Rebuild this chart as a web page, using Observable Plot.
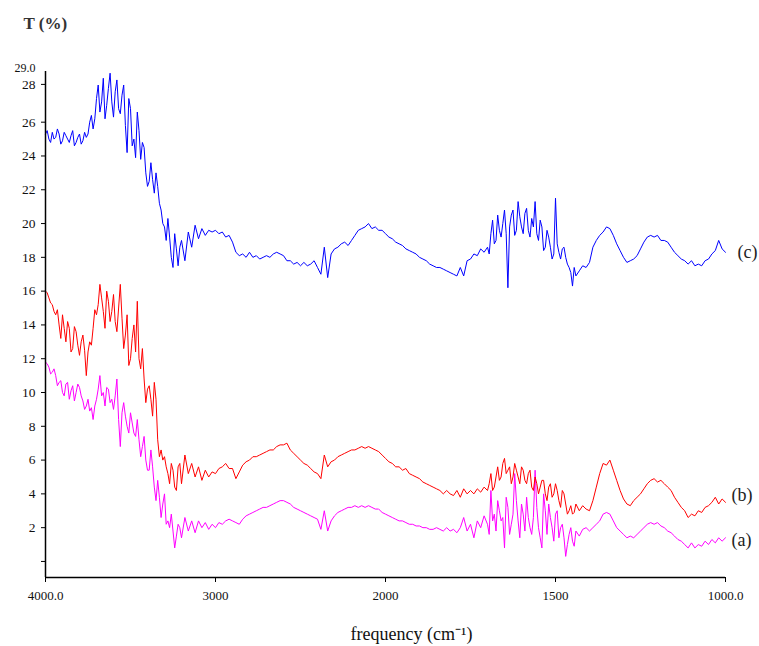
<!DOCTYPE html>
<html><head><meta charset="utf-8">
<script src="https://cdn.jsdelivr.net/npm/d3@7"></script>
<script src="https://cdn.jsdelivr.net/npm/@observablehq/plot@0.6"></script>
<style>body{margin:0;background:#fff} svg{display:block}</style>
</head><body><div id="chart"></div>
<script>
// Wavenumbers (cm-1), shared by all three spectra
const wavenumber = [
4000,3980,3960,3940,3920,3900,3880,3860,3840,3820,3800,3780,3760,3740,3720,3700,3680,3660,3640,3620,
3600,3580,3560,3540,3520,3500,3480,3460,3440,3420,3400,3380,3360,3340,3320,3300,3280,3260,3240,3220,
3200,3180,3160,3140,3120,3100,3080,3060,3040,3020,3000,2980,2960,2940,2920,2900,2880,2860,2840,2820,
2800,2780,2760,2740,2720,2700,2680,2660,2640,2620,2600,2580,2560,2540,2520,2500,2480,2460,2440,2420,
2400,2380,2360,2340,2320,2300,2280,2260,2240,2220,2200,2180,2160,2140,2120,2100,2080,2060,2040,2020,
2000,1990,1980,1970,1960,1950,1940,1930,1920,1910,1900,1890,1880,1870,1860,1850,1840,1830,1820,1810,
1800,1790,1780,1770,1760,1750,1740,1730,1720,1710,1700,1690,1680,1670,1660,1650,1640,1630,1620,1610,
1600,1590,1580,1570,1560,1550,1540,1530,1520,1510,1500,1490,1480,1470,1460,1450,1440,1430,1420,1410,
1400,1390,1380,1370,1360,1350,1340,1330,1320,1310,1300,1290,1280,1270,1260,1250,1240,1230,1220,1210,
1200,1190,1180,1170,1160,1150,1140,1130,1120,1110,1100,1090,1080,1070,1060,1050,1040,1030,1020,1010,
1000];

// (c) transmittance, %
const seriesC = [
25.3,25.0,25.4,25.1,25.3,24.9,25.2,24.8,25.5,24.8,25.3,24.9,25.1,26.0,25.6,27.4,26.6,28.6,27.0,28.9,
26.3,28.5,26.5,28.2,24.2,26.8,25.0,26.6,23.8,24.5,22.2,23.6,21.8,22.2,20.8,19.8,20.3,18.0,19.4,17.5,
19.0,17.8,19.5,18.6,19.9,19.1,19.7,19.3,19.6,19.5,19.6,19.4,19.5,19.2,19.3,18.9,18.3,18.1,18.2,18.0,
18.3,18.0,18.1,17.9,18.0,18.1,18.0,18.2,18.3,18.2,18.1,17.8,17.8,17.6,17.7,17.5,17.7,17.5,17.6,17.8,
17.4,17.0,18.6,16.8,18.2,18.5,18.6,18.8,18.9,18.7,19.0,19.3,19.6,19.7,19.8,20.0,19.7,19.8,19.6,19.6,
19.4,19.2,19.1,18.9,18.8,18.7,18.5,18.4,18.3,18.2,18.0,17.9,17.8,17.6,17.5,17.4,17.4,17.3,17.2,17.1,
17.0,16.9,17.4,16.9,17.8,17.9,18.2,18.1,18.5,18.3,18.6,19.4,18.8,20.5,19.2,20.8,16.2,20.5,19.3,21.3,
19.8,20.6,19.6,20.3,21.3,19.0,19.8,18.6,19.2,17.9,21.5,18.3,18.5,18.0,17.4,16.3,16.9,17.2,17.5,17.4,
17.7,18.6,19.0,19.3,19.5,19.8,19.7,19.3,18.8,18.4,18.0,17.7,17.8,17.9,18.1,18.5,18.9,19.2,19.3,19.2,
19.3,19.0,19.0,18.9,18.6,18.3,18.1,17.9,17.8,17.6,17.8,17.5,17.6,17.5,17.8,17.9,18.2,18.4,19.0,18.5,
18.3];

// (b) transmittance, %
const seriesB = [
16.0,15.6,15.2,14.6,14.0,14.6,13.0,13.8,12.6,13.6,12.2,13.4,11.0,13.0,13.8,14.6,16.4,14.8,16.0,14.2,
15.8,13.6,16.4,12.6,14.6,12.0,14.0,15.4,11.4,10.8,10.2,9.6,10.6,7.2,6.6,6.2,5.2,5.8,4.4,5.6,
4.6,6.3,5.2,5.8,5.0,5.6,4.8,5.4,5.0,5.3,5.2,5.5,5.6,5.8,5.5,5.5,4.9,5.3,5.7,5.9,
6.0,6.2,6.2,6.3,6.4,6.5,6.6,6.6,6.8,6.9,6.9,7.0,6.6,6.4,6.2,6.0,5.8,5.7,5.5,5.3,
5.2,4.9,6.3,5.6,5.9,6.0,6.2,6.3,6.4,6.5,6.6,6.6,6.7,6.8,6.7,6.8,6.7,6.6,6.5,6.3,
6.1,5.9,5.8,5.6,5.6,5.4,5.5,5.2,5.1,5.0,4.9,4.7,4.6,4.5,4.4,4.3,4.2,4.0,4.2,4.0,
3.9,4.2,3.8,4.3,4.0,4.2,4.0,4.3,4.1,4.4,4.2,5.2,4.4,5.6,5.0,6.1,5.4,4.6,5.8,5.0,
5.6,4.8,5.2,4.4,5.0,4.0,4.8,4.0,4.4,3.8,4.6,3.6,4.2,3.4,3.0,2.8,3.4,3.0,3.3,3.1,
3.0,3.6,4.4,5.2,5.8,5.7,6.0,5.4,4.8,4.2,3.7,3.4,3.3,3.6,3.8,4.0,4.3,4.6,4.8,4.9,
4.7,4.8,4.6,4.4,4.2,3.8,3.5,3.2,3.0,2.6,2.8,2.7,3.0,2.9,3.2,3.3,3.5,3.8,3.4,3.7,
3.5];

// (a) transmittance, %
const seriesA = [
11.8,11.5,11.2,11.0,10.6,10.0,10.5,9.6,10.4,10.0,10.3,9.5,9.2,8.9,8.4,9.6,11.0,10.0,10.3,9.4,
9.0,10.8,6.8,9.4,8.0,8.8,7.6,8.4,6.2,7.4,5.4,6.6,4.4,4.8,2.6,4.0,2.4,2.8,0.8,2.2,
1.4,2.6,1.8,2.4,1.7,2.4,2.0,2.3,1.9,2.2,2.0,2.3,2.2,2.4,2.5,2.4,2.3,2.2,2.5,2.7,
2.8,2.9,3.0,3.1,3.2,3.2,3.3,3.4,3.5,3.6,3.6,3.5,3.4,3.2,3.1,3.0,2.9,2.8,2.7,2.6,
2.5,1.9,3.0,1.8,2.4,2.7,2.9,3.0,3.1,3.2,3.2,3.3,3.2,3.3,3.2,3.3,3.2,3.1,3.1,2.9,
2.8,2.7,2.6,2.5,2.4,2.4,2.3,2.2,2.2,2.1,2.1,2.0,2.0,1.9,1.9,2.0,1.9,1.8,2.0,1.8,
1.9,1.7,2.0,2.6,1.8,2.2,1.4,2.4,2.0,2.7,2.2,4.2,2.8,3.6,2.4,0.8,3.2,2.2,5.2,2.4,
3.4,1.8,2.6,1.6,5.4,2.0,0.8,3.0,3.4,2.0,2.8,1.4,2.2,0.3,1.6,1.2,1.8,1.5,1.9,2.0,
1.8,2.0,2.2,2.4,2.8,2.9,2.8,2.4,2.0,1.8,1.6,1.4,1.5,1.4,1.6,1.8,2.0,2.2,2.3,2.2,
2.3,2.1,2.0,1.8,1.7,1.5,1.3,1.2,1.0,0.8,1.1,0.8,1.0,0.9,1.2,1.0,1.3,1.1,1.4,1.2,
1.4];

// Extra readings in the noisy O–H region (3990 … 3210 cm-1)
const wavenumberFine1 = [
3990,3970,3950,3930,3910,3890,3870,3850,3830,3810,3790,3770,3750,3730,3710,3690,3670,3650,3630,3610,
3590,3570,3550,3530,3510,3490,3470,3450,3430,3410,3390,3370,3350,3330,3310,3290,3270,3250,3230,3210];
const seriesCFine1 = [
25.5,24.8,25.0,25.6,24.7,25.4,25.0,25.2,24.6,25.1,24.7,25.4,25.3,26.4,26.2,28.2,27.2,26.2,28.0,27.2,
27.8,26.8,27.6,25.8,27.4,24.6,23.9,25.5,24.8,23.0,22.5,22.6,23.0,21.2,20.0,19.0,19.2,17.4,18.5,18.6];
const seriesBFine1 = [
15.9,15.3,14.8,14.9,13.2,13.8,14.2,12.4,13.9,12.8,13.0,12.5,12.4,12.8,14.9,15.2,15.6,13.8,15.4,14.8,
14.2,15.0,14.4,13.4,11.6,13.2,12.4,12.0,12.6,9.4,10.4,8.6,9.6,6.2,6.0,5.6,4.6,5.4,4.2,5.8];
const seriesAFine1 = [
11.7,11.1,11.4,10.4,10.7,9.8,10.6,10.1,9.5,10.5,9.8,9.0,9.6,9.1,9.2,10.2,9.8,9.2,10.2,9.6,
9.8,8.4,8.8,8.6,7.6,8.2,7.4,7.2,6.8,6.0,5.4,5.6,3.6,3.8,3.4,2.2,2.0,1.8,1.5,2.0];

// Extra readings in the noisy 1695 … 1445 cm-1 region
const wavenumberFine2 = [
1695,1685,1675,1665,1655,1645,1635,1625,1615,1605,1595,1585,1575,1565,1555,1545,1535,1525,1515,1505,
1495,1485,1475,1465,1455,1445];
const seriesCFine2 = [
18.2,20.2,19.0,19.6,20.0,19.4,19.8,20.8,19.6,20.4,19.4,20.9,19.2,19.8,19.4,20.2,18.4,19.6,18.6,18.2,
18.8,17.9,18.6,17.6,17.1,17.4];
const seriesBFine2 = [
4.6,4.2,5.0,4.8,5.8,5.2,5.6,5.0,5.4,4.6,5.4,4.6,5.4,4.2,4.6,4.4,4.8,3.6,4.6,4.0,
4.2,3.2,4.0,2.8,3.3,2.9];
const seriesAFine2 = [
1.6,2.4,1.8,3.0,2.6,3.8,1.6,2.8,3.6,1.4,2.8,3.8,2.0,2.6,3.2,1.4,4.0,1.6,2.6,1.2,
3.0,2.0,1.4,1.0,2.0,0.9];

const seriesNames = ["(a)", "(b)", "(c)"];
const seriesColors = ["#ff00ff", "#ff0000", "#0000ff"];

const xTicks = [4000, 3000, 2000, 1500, 1000];
const xTickLabels = ["4000.0", "3000", "2000", "1500", "1000.0"];
const yTicks = [0, 2, 4, 6, 8, 10, 12, 14, 16, 18, 20, 22, 24, 26, 28, 29];
const yTickLabels = ["", "2", "4", "6", "8", "10", "12", "14", "16", "18", "20", "22", "24", "26", "28", "29.0"];

const yMin = -0.95, yMax = 29;

// The frequency axis changes scale at 2000 cm-1 (4000–2000 and 2000–1000 each take half the width)
const axisPos = (w) => w >= 2000 ? (4000 - w) / 2000 : 1 + (2000 - w) / 1000;

const rows = [];
[
  [seriesNames[0], seriesA, seriesAFine1, seriesAFine2],
  [seriesNames[1], seriesB, seriesBFine1, seriesBFine2],
  [seriesNames[2], seriesC, seriesCFine1, seriesCFine2]
].forEach(([name, main, fine1, fine2]) => {
  const pts = [];
  main.forEach((v, i) => pts.push({series: name, w: wavenumber[i], t: v}));
  fine1.forEach((v, i) => pts.push({series: name, w: wavenumberFine1[i], t: v}));
  fine2.forEach((v, i) => pts.push({series: name, w: wavenumberFine2[i], t: v}));
  pts.sort((a, b) => b.w - a.w);
  rows.push(...pts);
});
const last = wavenumber.length - 1;
const labelRows = [
  {series: "(c)", w: wavenumber[last], t: seriesC[last], dy: 0, dx: 12},
  {series: "(b)", w: wavenumber[last], t: seriesB[last], dy: -7, dx: 6},
  {series: "(a)", w: wavenumber[last], t: seriesA[last], dy: 2, dx: 6}
];

const serif = "'Liberation Serif', 'Times New Roman', serif";

const chart = Plot.plot({
  width: 759,
  height: 646,
  marginLeft: 45,
  marginRight: 34,
  marginTop: 71,
  marginBottom: 69,
  style: {fontFamily: serif, background: "#fff", color: "#111"},
  x: {domain: [axisPos(4000), axisPos(1000)]},
  y: {domain: [yMin, yMax]},
  color: {domain: seriesNames, range: seriesColors},
  marks: [
    Plot.lineY(rows, {x: (d) => axisPos(d.w), y: "t", z: "series", stroke: "series", strokeWidth: 1}),
    Plot.ruleX([axisPos(4000)], {y1: yMin, y2: yMax, stroke: "#000", strokeWidth: 1.5}),
    Plot.ruleY([yMin], {x1: axisPos(4000), x2: axisPos(1000), stroke: "#000", strokeWidth: 1.5}),
    Plot.axisX(xTicks.map(axisPos), {
      tickSize: 5, tickPadding: 8, fontSize: 13, label: null,
      tickFormat: (d) => xTickLabels[xTicks.map(axisPos).indexOf(d)],
      stroke: "#000"
    }),
    Plot.axisY(yTicks.filter(d => d !== 28 && d !== 29), {
      tickSize: 4, tickPadding: 6, fontSize: 13.5, label: null,
      tickFormat: (d) => yTickLabels[yTicks.indexOf(d)],
      stroke: "#000"
    }),
    Plot.axisY([28], {
      tickSize: 4, tickPadding: 6, fontSize: 13.5, label: null, dy: -4,
      tickFormat: (d) => yTickLabels[yTicks.indexOf(d)],
      stroke: "#000"
    }),
    Plot.axisY([29], {
      tickSize: 0, tickPadding: 10, fontSize: 12, label: null, dy: -3,
      tickFormat: (d) => yTickLabels[yTicks.indexOf(d)],
      stroke: "#000"
    }),
    Plot.text(["T (%)"], {frameAnchor: "top-left", lineAnchor: "middle", dx: -22, dy: -48, textAnchor: "start", fontSize: 17, fontWeight: "bold", fill: "#333"}),
    Plot.text(["frequency (cm⁻¹)"], {frameAnchor: "bottom", lineAnchor: "middle", dx: 26, dy: 57, fontSize: 18, fill: "#111"}),
    ...labelRows.map(r => Plot.text([r], {x: (d) => axisPos(d.w), y: "t", text: "series", dx: r.dx, dy: r.dy, textAnchor: "start", fontSize: 18, fill: "#222"}))
  ]
});
document.getElementById("chart").appendChild(chart);
</script>
</body></html>
